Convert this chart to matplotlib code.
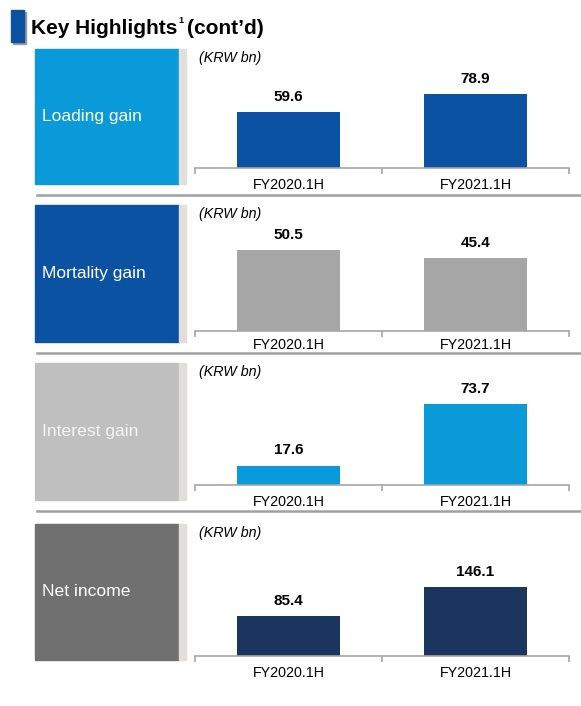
import matplotlib.pyplot as plt
from matplotlib.patches import Rectangle
from matplotlib.lines import Line2D

plt.rcParams['font.family'] = ['Liberation Sans', 'DejaVu Sans']

# data
categories = ['FY2020.1H', 'FY2021.1H']
panel_names = ['Loading gain', 'Mortality gain', 'Interest gain', 'Net income']
loading_gain = [59.6, 78.9]
mortality_gain = [50.5, 45.4]
interest_gain = [17.6, 73.7]
net_income = [85.4, 146.1]
series = [loading_gain, mortality_gain, interest_gain, net_income]

# styles
box_colors = ['#0a9ad9', '#0c52a2', '#bfbfbf', '#707070']
label_colors = ['white', 'white', '#f4f4f4', 'white']
bar_colors = ['#0c52a2', '#a6a6a6', '#0a9ad9', '#1a365e']
ymax = [126.6, 78.8, 111, 281]
box_top = [49, 205, 363, 524]
box_bot = [184, 342, 500, 660]
baseline = [168, 331, 485, 656]
tick_pad = [7.3, 5.3, 7.3, 7.3]
sep_y = [195, 353, 511]

W, H = 581, 706
fig = plt.figure(figsize=(W / 100, H / 100), dpi=100)
renderer = fig.canvas.get_renderer()


def fx(x):
    return x / W


def fy(y):
    return 1 - y / H


# title
fig.add_artist(Rectangle((fx(13), fy(44)), 13 / W, 32 / H, color='#9a9a9a',
                         transform=fig.transFigure, zorder=1))
fig.add_artist(Rectangle((fx(11), fy(42)), 13 / W, 32 / H, color='#0c52a2',
                         transform=fig.transFigure, zorder=2))
t1 = fig.text(fx(31), fy(34), 'Key Highlights', fontsize=15, fontweight='bold',
              ha='left', va='baseline')
x1 = t1.get_window_extent(renderer).x1
t2 = fig.text((x1 + 1) / W, fy(23), '1', fontsize=6.5, fontweight='bold',
              ha='left', va='baseline')
x2 = t2.get_window_extent(renderer).x1
fig.text((x2 + 3) / W, fy(34), '(cont\u2019d)', fontsize=15, fontweight='bold',
         ha='left', va='baseline')

for i in range(4):
    top, bot = box_top[i], box_bot[i]
    # left label box and grey strip
    fig.add_artist(Rectangle((fx(35), fy(bot)), 144 / W, (bot - top) / H,
                             color=box_colors[i], transform=fig.transFigure))
    fig.add_artist(Rectangle((fx(179), fy(bot)), 7 / W, (bot - top) / H,
                             color='#e2dfdb', transform=fig.transFigure))
    fig.text(fx(42), fy((top + bot) / 2), panel_names[i], fontsize=12.6,
             color=label_colors[i], ha='left', va='center')
    fig.text(fx(199), fy(top + 9), '(KRW bn)', fontsize=10.3, style='italic',
             ha='left', va='center')

    ax = fig.add_axes([fx(195), fy(baseline[i]), 374 / W, (baseline[i] - top) / H])
    x = list(range(len(categories)))
    bars = ax.bar(x, series[i], width=0.555, color=bar_colors[i], zorder=2)
    for b, v in zip(bars, series[i]):
        ax.annotate(f'{v:.1f}', (b.get_x() + b.get_width() / 2, v),
                    xytext=(0, 11), textcoords='offset points',
                    ha='center', va='center', fontsize=11, fontweight='bold')
    ax.set_xlim(-0.5, 1.5)
    ax.set_ylim(0, ymax[i])
    for s in ['top', 'left', 'right']:
        ax.spines[s].set_visible(False)
    ax.spines['bottom'].set_color('#a6a6a6')
    ax.spines['bottom'].set_linewidth(1.2)
    ax.set_yticks([])
    ax.set_xticks([-0.5, 0.5, 1.5])
    ax.set_xticklabels([])
    ax.tick_params(axis='x', which='major', length=4, color='#a6a6a6', width=1.2)
    ax.set_xticks(x, minor=True)
    ax.set_xticklabels(categories, minor=True, fontsize=10.3)
    ax.tick_params(axis='x', which='minor', length=0, pad=tick_pad[i])
    ax.patch.set_alpha(0)

for y in sep_y:
    fig.add_artist(Line2D([fx(37), fx(581)], [fy(y), fy(y)], color='#a0a0a0',
                          linewidth=1.8, transform=fig.transFigure))

fig.savefig('out.png', dpi=100)
